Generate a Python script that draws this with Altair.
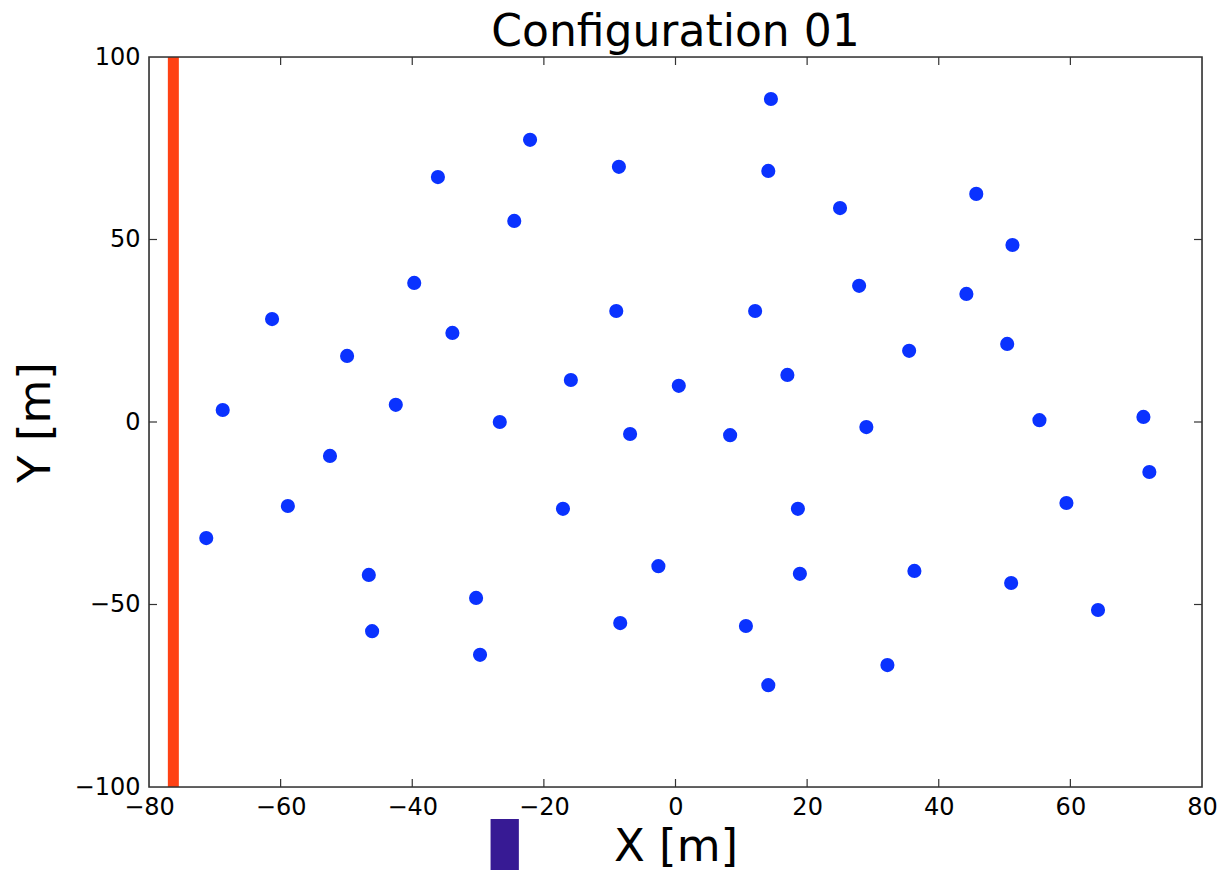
import altair as alt
import pandas as pd

# Detector positions [m]
xs = [14.5, -22.1, -8.6, 14.1, -36.1, 45.7, 25.0, -24.5, 51.2, -39.7,
      27.9, 44.2, -61.3, -9.0, 12.1, -33.9, 35.5, 50.4, -49.9, -15.9,
      17.0, 0.5, -68.8, -42.5, -26.7, 55.3, 71.1, -6.9, 8.3, 29.0,
      -52.5, 72.0, -58.9, -17.1, 18.6, 59.4, -71.3, -2.6, -46.6, 18.9,
      36.3, 51.0, -30.3, 64.2, -8.4, -46.1, 10.7, -29.7, 32.2, 14.1]
ys = [88.5, 77.3, 69.9, 68.8, 67.1, 62.5, 58.6, 55.1, 48.5, 38.1,
      37.3, 35.1, 28.2, 30.4, 30.4, 24.4, 19.5, 21.4, 18.1, 11.5,
      12.9, 9.9, 3.3, 4.7, 0.0, 0.5, 1.4, -3.3, -3.6, -1.4,
      -9.3, -13.7, -23.0, -23.8, -23.8, -22.2, -31.8, -39.5, -41.9, -41.6,
      -40.8, -44.1, -48.2, -51.5, -55.1, -57.3, -55.9, -63.8, -66.6, -72.1]

wall_x = [-76.3]
wall_y = [-100]
wall_y2 = [100]

box_x = [-28.1]
box_x2 = [-23.8]
box_y = [-108.8]
box_y2 = [-126]

x_ticks = [-80, -60, -40, -20, 0, 20, 40, 60, 80]
y_ticks = [-100, -50, 0, 50, 100]

W, H = 1053, 730
FONT = "DejaVu Sans"

xscale = alt.Scale(domain=[-80, 80], nice=False, zero=False)
yscale = alt.Scale(domain=[-100, 100], nice=False, zero=False)

pts = pd.DataFrame({"x": xs, "y": ys})

points = alt.Chart(pts).mark_point(
    filled=True, shape="circle", size=200, color="#0a32ff", opacity=1
).encode(
    x=alt.X("x:Q", scale=xscale,
            axis=alt.Axis(values=x_ticks, format="d", title="X [m]",
                          tickSize=0, labelPadding=8, titlePadding=5,
                          labelFontSize=24, titleFontSize=45,
                          labelFont=FONT, titleFont=FONT, domain=False,
                          grid=False, labelColor="black", titleColor="black",
                          titleFontWeight="normal", labelFlush=False)),
    y=alt.Y("y:Q", scale=yscale,
            axis=alt.Axis(values=y_ticks, format="d", title="Y [m]",
                          tickSize=0, labelPadding=9, titlePadding=16,
                          labelFontSize=24, titleFontSize=45,
                          labelFont=FONT, titleFont=FONT, domain=False,
                          grid=False, labelColor="black", titleColor="black",
                          titleFontWeight="normal", labelFlush=False)),
)

wall = alt.Chart(pd.DataFrame({"x": wall_x, "y": wall_y, "y2": wall_y2})).mark_rule(
    color="#ff4114", strokeWidth=11
).encode(x=alt.X("x:Q", scale=xscale), y=alt.Y("y:Q", scale=yscale), y2="y2:Q")

box = alt.Chart(pd.DataFrame({"x": box_x, "x2": box_x2, "y": box_y, "y2": box_y2})).mark_rect(
    color="#371a94"
).encode(x=alt.X("x:Q", scale=xscale), x2="x2:Q",
         y=alt.Y("y:Q", scale=yscale), y2="y2:Q")

# inward ticks (matplotlib classic style), on all four sides
tx = pd.DataFrame({"v": x_ticks[1:-1]})
ty = pd.DataFrame({"v": y_ticks[1:-1]})
tick_style = dict(color="#333333", strokeWidth=1.2)
xt_bottom = alt.Chart(tx).mark_rule(**tick_style).encode(
    x=alt.X("v:Q", scale=xscale), y=alt.value(H), y2=alt.value(H - 8))
xt_top = alt.Chart(tx).mark_rule(**tick_style).encode(
    x=alt.X("v:Q", scale=xscale), y=alt.value(0), y2=alt.value(8))
yt_left = alt.Chart(ty).mark_rule(**tick_style).encode(
    y=alt.Y("v:Q", scale=yscale), x=alt.value(0), x2=alt.value(8))
yt_right = alt.Chart(ty).mark_rule(**tick_style).encode(
    y=alt.Y("v:Q", scale=yscale), x=alt.value(W), x2=alt.value(W - 8))

frame = alt.Chart(pd.DataFrame({"f": [0]})).mark_rect(
    fill=None, stroke="#333333", strokeWidth=1.6
).encode(x=alt.value(0), x2=alt.value(W), y=alt.value(0), y2=alt.value(H))

chart = alt.layer(
    xt_bottom, xt_top, yt_left, yt_right, wall, points, box, frame
).properties(
    width=W, height=H,
    title=alt.Title("Configuration 01", fontSize=44, font=FONT,
                    fontWeight="normal", color="black", offset=-10),
    autosize=alt.AutoSizeParams(type="none"),
    padding={"left": 149, "top": 57, "right": 23, "bottom": 83},
).configure_view(
    stroke=None
).configure(background="white")

chart.save("out.html", embed_options={"renderer": "svg", "actions": False})
